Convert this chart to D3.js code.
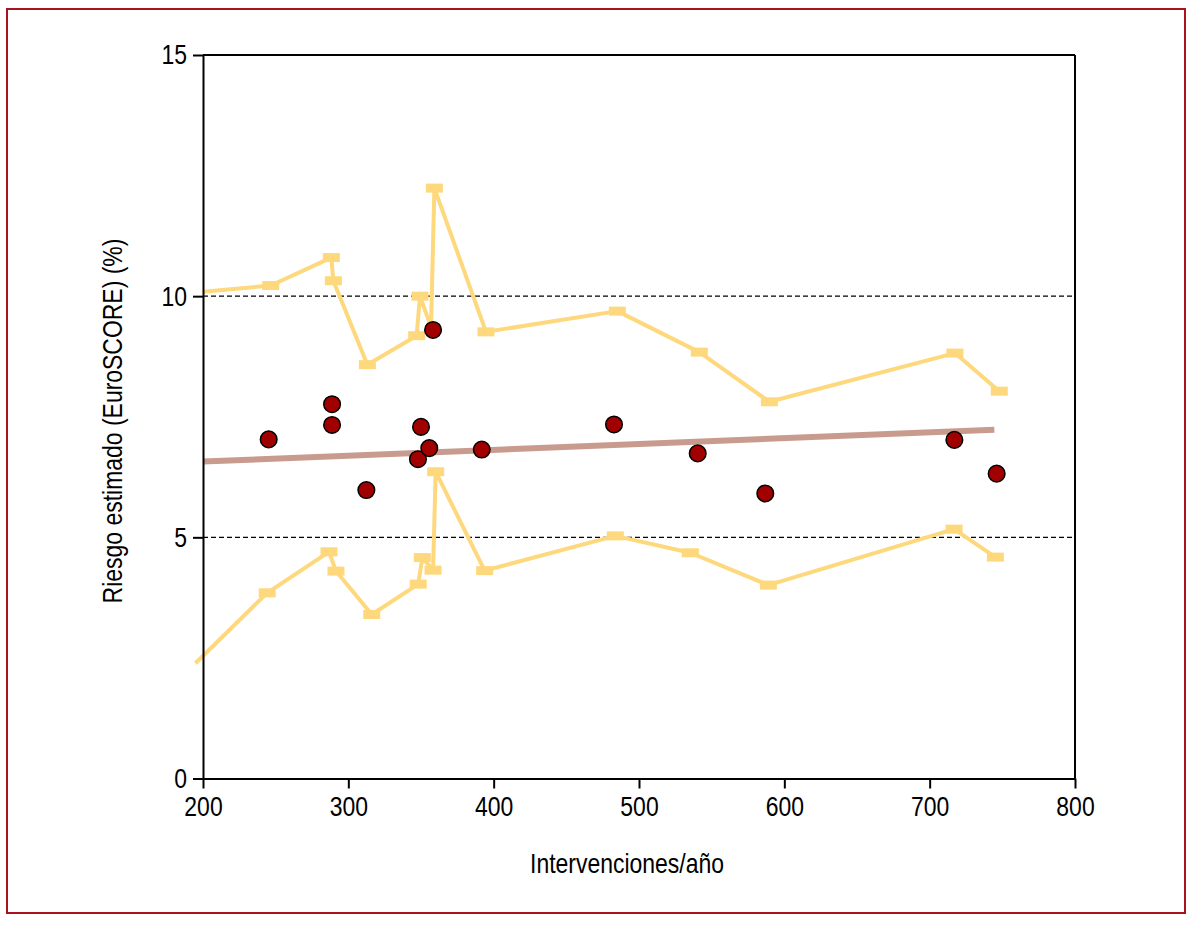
<!DOCTYPE html>
<html><head><meta charset="utf-8">
<script src="https://cdn.jsdelivr.net/npm/d3@7"></script>
<style>
body{margin:0;background:#fff;}
text{font-family:'Liberation Sans',Arial,sans-serif;}
</style></head>
<body><svg id="c" width="1193" height="925"></svg>
<script>
// Data
const xTicks = [200,300,400,500,600,700,800];
const yTicks = [0,5,10,15];
const gridValues = [5,10];
const xLabel = "Intervenciones/año";
const yLabel = "Riesgo estimado (EuroSCORE) (%)";

const hospX = [245.2,288.8,288.8,312.4,350.0,347.9,355.7,358.3,391.8,482.8,540.4,586.9,717.0,746.1];
const hospY = [7.03,7.76,7.33,5.98,7.29,6.62,6.85,9.30,6.82,7.34,6.74,5.91,7.02,6.32];

const fitX = [200,744.5];
const fitY = [6.57,7.23];

const upperX = [199.8,246.6,288.3,289.7,313.1,347.0,349.3,356.9,359.2,394.7,485.1,541.5,589.7,717.4,747.9];
const upperY = [10.09,10.22,10.80,10.32,8.58,9.18,10.00,9.36,12.24,9.26,9.69,8.84,7.81,8.82,8.03];
const upperMark = [0,1,1,1,1,1,1,0,1,1,1,1,1,1,1];

const lowerX = [194.8,244.2,286.7,291.5,316.1,348.1,350.9,358.3,360.1,393.8,483.7,535.3,589.0,716.8,745.2];
const lowerY = [2.39,3.85,4.70,4.30,3.40,4.03,4.58,4.32,6.36,4.31,5.03,4.68,4.01,5.17,4.59];
const lowerMark = [0,1,1,1,1,1,1,1,1,1,1,1,1,1,1];

const svg = d3.select("#c");
const NARROW = 0.82;
const fs = 28;

// outer frame
svg.append("rect").attr("x",7).attr("y",9).attr("width",1178).attr("height",904)
  .attr("fill","none").attr("stroke","#a8121c").attr("stroke-width",2);

const x = d3.scaleLinear().domain([200,800]).range([203,1075]);
const y = d3.scaleLinear().domain([0,15]).range([778.5,55]);

// grid dashed lines
svg.selectAll("line.grid").data(gridValues).enter().append("line")
  .attr("x1",x(200)).attr("x2",x(800)).attr("y1",d=>y(d)).attr("y2",d=>y(d))
  .attr("stroke","#000").attr("stroke-width",1.2).attr("stroke-dasharray","5,3");

const yellow = "#fed87c";
function band(xs, ys, marks){
  const pts = xs.map((v,i)=>({x:v,y:ys[i],m:marks[i]}));
  svg.append("path").datum(pts)
    .attr("d", d3.line().x(d=>x(d.x)).y(d=>y(d.y)))
    .attr("fill","none").attr("stroke",yellow).attr("stroke-width",4).attr("stroke-linejoin","round");
  svg.append("g").selectAll("rect").data(pts.filter(d=>d.m)).enter().append("rect")
    .attr("x",d=>x(d.x)-8.5).attr("y",d=>y(d.y)-4.5).attr("width",17).attr("height",9)
    .attr("fill",yellow);
}
band(upperX, upperY, upperMark);
band(lowerX, lowerY, lowerMark);

// regression line
svg.append("line").attr("x1",x(fitX[0])).attr("y1",y(fitY[0])).attr("x2",x(fitX[1])).attr("y2",y(fitY[1]))
  .attr("stroke","#c99b8f").attr("stroke-width",6);

// points
svg.append("g").selectAll("circle").data(hospX.map((v,i)=>[v,hospY[i]])).enter().append("circle")
  .attr("cx",d=>x(d[0])).attr("cy",d=>y(d[1])).attr("r",8.3)
  .attr("fill","#a10000").attr("stroke","#000").attr("stroke-width",1.5);

// axes
const gx = svg.append("g").attr("transform",`translate(0,${y(0)})`)
  .call(d3.axisBottom(x).tickValues(xTicks).tickSize(10).tickSizeOuter(0).tickPadding(8));
const gy = svg.append("g").attr("transform",`translate(${x(200)},0)`)
  .call(d3.axisLeft(y).tickValues(yTicks).tickSize(10).tickSizeOuter(0).tickPadding(6));
[gx,gy].forEach(g=>{
  g.selectAll("path.domain").attr("stroke","#000").attr("stroke-width",2);
  g.selectAll(".tick line").attr("stroke","#000").attr("stroke-width",2);
  g.selectAll(".tick text").attr("fill","#000").style("font-size",fs+"px")
   .style("font-family","'Liberation Sans',Arial,sans-serif")
   .attr("transform",`scale(${NARROW},1)`);
});
gy.selectAll(".tick text").attr("x", -16/NARROW);
// box top and right
svg.append("line").attr("x1",x(200)).attr("x2",x(800)).attr("y1",y(15)).attr("y2",y(15)).attr("stroke","#000").attr("stroke-width",2);
svg.append("line").attr("x1",x(800)).attr("x2",x(800)).attr("y1",y(15)).attr("y2",y(0)).attr("stroke","#000").attr("stroke-width",2);

svg.append("text").attr("transform",`translate(627,873) scale(${NARROW},1)`).attr("text-anchor","middle")
  .style("font-size",fs+"px").text(xLabel);
svg.append("text").attr("transform",`translate(122,421) rotate(-90) scale(${NARROW},1)`).attr("text-anchor","middle")
  .style("font-size",fs+"px").text(yLabel);
</script></body></html>
